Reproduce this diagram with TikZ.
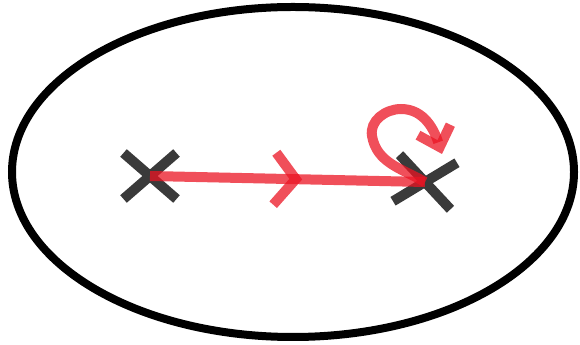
\documentclass[tikz,border=0pt]{standalone}
\usepackage{xcolor}
\usepackage{tikz}
\usetikzlibrary{shapes.misc, arrows.meta, decorations.markings}

\definecolor{inkred}{RGB}{235,20,35}
\definecolor{inkgray}{RGB}{58,58,58}

\begin{document}
\begin{tikzpicture}[x=0.02cm, y=0.02cm,
        pole/.style={cross out, draw=inkgray, line width=0.2cm, inner sep=0pt,
                     minimum width=0.86cm, minimum height=0.72cm},
        flowline/.style={draw=inkred, draw opacity=0.75, line width=0.2cm}]
        \useasboundingbox (0,0) rectangle (580,344);
        % Contour round the whole region
        \draw[line width=0.16cm] (293,172) ellipse [x radius=281, y radius=165];
        % The two poles
        \node[pole] (lx) at (150,168) {};
        \node[pole, rotate=-8, minimum width=0.96cm, minimum height=0.74cm] (rx) at (425,162) {};
        % Straight run from left pole to right pole, chevron halfway
        \draw[flowline, postaction={decorate},
              decoration={markings, mark=at position 0.53 with {\draw[flowline] (-20,26) -- (0,0) -- (-22,-26);}}]
              (lx.center) -- (rx.center);
        % Small loop round the right pole
        \draw[flowline, -{Straight Barb[length=0.36cm, width=0.68cm]}]
              (rx.center) to[out=150, in=-80] (372,208) to[out=100, in=180] (401,235) to[out=0, in=108] (442,190);
    \end{tikzpicture}
\end{document}
